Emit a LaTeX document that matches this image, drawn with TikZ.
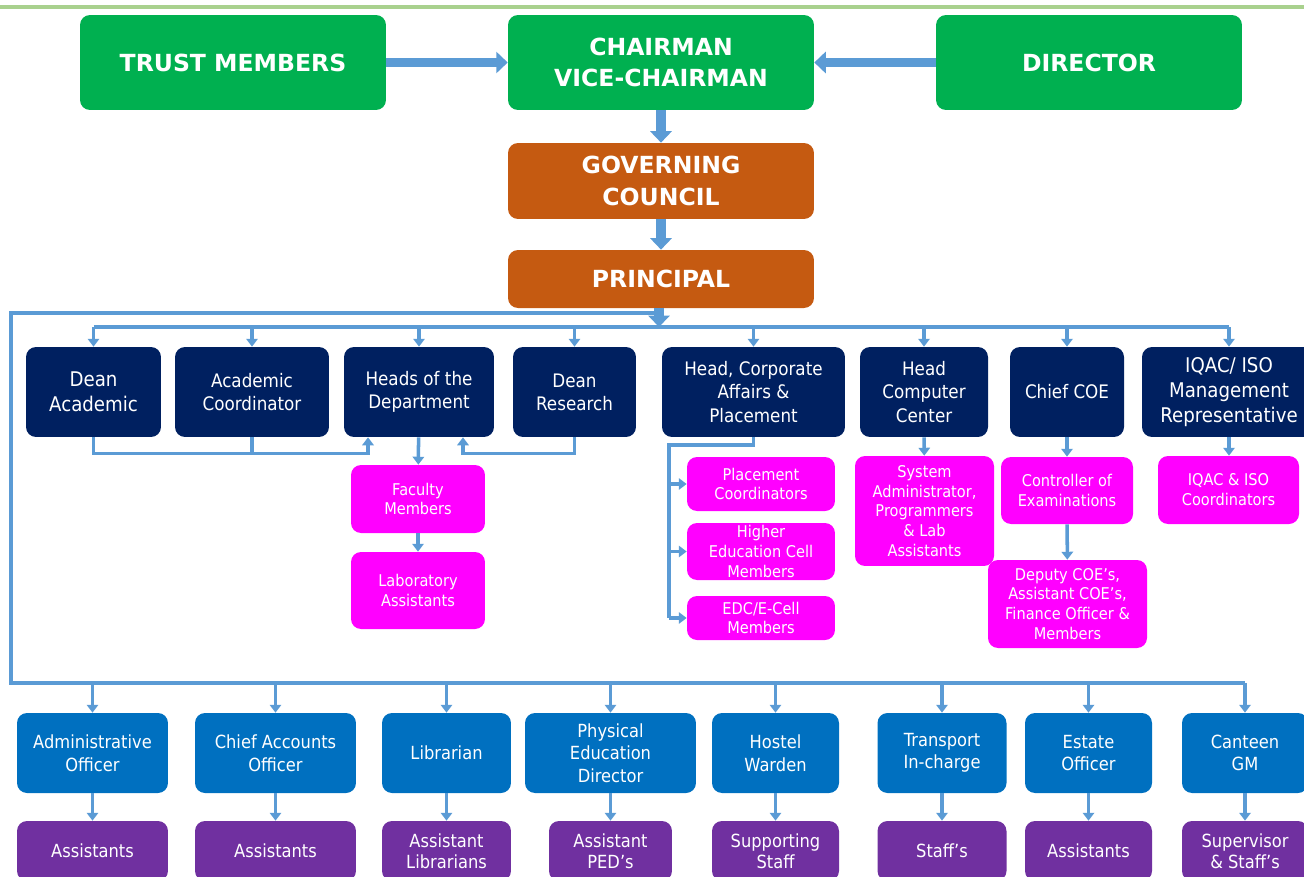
\documentclass[tikz,border=0pt]{standalone}
\usepackage{fontspec}
\setmainfont{DejaVu Sans}[FakeStretch=0.9]
\newfontfamily\headfont{DejaVu Sans}
\usetikzlibrary{arrows.meta}

\definecolor{trustgreen}{HTML}{00B050}
\definecolor{councilorange}{HTML}{C55A11}
\definecolor{deannavy}{HTML}{002060}
\definecolor{staffpink}{HTML}{FF00FF}
\definecolor{officeblue}{HTML}{0070C0}
\definecolor{helperpurple}{HTML}{7030A0}
\definecolor{linkblue}{HTML}{5B9BD5}
\definecolor{rulegreen}{HTML}{A9D18E}

\begin{document}
\begin{tikzpicture}[x=0.02cm,y=-0.02cm,
	box/.style={rounded corners=0.2cm,text=white,align=center,inner sep=1pt},
	board/.style={box,fill=trustgreen,font=\headfont\bfseries\fontsize{13.4}{17.4}\selectfont},
	gov/.style={box,fill=councilorange,font=\headfont\bfseries\fontsize{13.4}{18}\selectfont},
	dean/.style={box,fill=deannavy,minimum height=1.8cm,font=\fontsize{10.6}{13.2}\selectfont},
	staff/.style={box,fill=staffpink,font=\fontsize{9.2}{11.3}\selectfont},
	office/.style={box,fill=officeblue,minimum height=1.6cm,font=\fontsize{10.3}{12.8}\selectfont},
	helper/.style={box,fill=helperpurple,minimum height=1.2cm,font=\fontsize{10.3}{11.8}\selectfont},
	bigarrow/.style={linkblue,line width=5.5pt,-{Triangle[length=6.5pt,width=12pt]}},
	link/.style={linkblue,line width=2pt},
	linkarrow/.style={link,-{Triangle[length=4.5pt,width=6.5pt]}}]
	\path[use as bounding box,clip] (0,0) rectangle (1304,876);
	\draw[rulegreen,line width=2.4pt] (0,7) -- (1304,7);

	\node[board,minimum width=6.12cm,minimum height=1.9cm] (trust) at (233,62.5) {TRUST MEMBERS};
	\node[board,minimum width=6.12cm,minimum height=1.9cm] (chair) at (661,62.5) {CHAIRMAN\\VICE-CHAIRMAN};
	\node[board,minimum width=6.12cm,minimum height=1.9cm] (director) at (1089,62.5) {DIRECTOR};
	\node[gov,minimum width=6.12cm,minimum height=1.52cm] (council) at (661,181) {GOVERNING\\COUNCIL};
	\node[gov,minimum width=6.12cm,minimum height=1.16cm] (principal) at (661,279) {PRINCIPAL};

	\node[dean,minimum width=2.7cm,font=\fontsize{11.5}{14.3}\selectfont] (deanac) at (93.5,392) {Dean\\Academic};
	\node[dean,minimum width=3.08cm] (coord) at (252,392) {Academic\\Coordinator};
	\node[dean,minimum width=3cm] (hod) at (419,392) {Heads of the\\Department};
	\node[dean,minimum width=2.46cm] (deanres) at (574.5,392) {Dean\\Research};
	\node[dean,minimum width=3.66cm] (corp) at (753.5,392) {Head, Corporate\\Affairs \&\\Placement};
	\node[dean,minimum width=2.56cm] (hcc) at (924,392) {Head\\Computer\\Center};
	\node[dean,minimum width=2.28cm] (coe) at (1067,392) {Chief COE};
	\node[dean,minimum width=3.48cm,font=\fontsize{11.5}{14.4}\selectfont] (iqac) at (1229,392) {IQAC/ ISO\\Management\\Representative};

	\node[staff,minimum width=2.68cm,minimum height=1.36cm] (faculty) at (418,499) {Faculty\\Members};
	\node[staff,minimum width=2.68cm,minimum height=1.54cm] (labasst) at (418,590.5) {Laboratory\\Assistants};
	\node[staff,minimum width=2.96cm,minimum height=1.08cm] (plc) at (761,484) {Placement\\Coordinators};
	\node[staff,minimum width=2.96cm,minimum height=1.14cm] (hec) at (761,551.5) {Higher\\Education Cell\\Members};
	\node[staff,minimum width=2.96cm,minimum height=0.88cm] (edc) at (761,618) {EDC/E-Cell\\Members};
	\node[staff,minimum width=2.78cm,minimum height=2.2cm] (sysad) at (924.5,511) {System\\Administrator,\\Programmers\\\& Lab\\Assistants};
	\node[staff,minimum width=2.64cm,minimum height=1.34cm] (ctrl) at (1067,490.5) {Controller of\\Examinations};
	\node[staff,minimum width=3.18cm,minimum height=1.76cm] (deputy) at (1067.5,604) {Deputy COE’s,\\Assistant COE’s,\\Finance Officer \&\\Members};
	\node[staff,minimum width=2.82cm,minimum height=1.36cm] (iqacco) at (1228.5,490) {IQAC \& ISO\\Coordinators};

	\node[office,minimum width=3.02cm] (ao) at (92.5,753) {Administrative\\Officer};
	\node[office,minimum width=3.22cm] (cao) at (275.5,753) {Chief Accounts\\Officer};
	\node[office,minimum width=2.58cm] (lib) at (446.5,753) {Librarian};
	\node[office,minimum width=3.42cm] (ped) at (610.5,753) {Physical\\Education\\Director};
	\node[office,minimum width=2.54cm] (warden) at (775.5,753) {Hostel\\Warden};
	\node[office,minimum width=2.58cm] (transport) at (942,753) {Transport\\In-charge};
	\node[office,minimum width=2.54cm] (estate) at (1088.5,753) {Estate\\Officer};
	\node[office,minimum width=2.52cm] (canteen) at (1245,753) {Canteen\\GM};

	\node[helper,minimum width=3.02cm] (aoasst) at (92.5,851) {Assistants};
	\node[helper,minimum width=3.22cm] (caoasst) at (275.5,851) {Assistants};
	\node[helper,minimum width=2.58cm] (libasst) at (446.5,851) {Assistant\\Librarians};
	\node[helper,minimum width=2.46cm] (pedasst) at (610.5,851) {Assistant\\PED’s};
	\node[helper,minimum width=2.54cm] (support) at (775.5,851) {Supporting\\Staff};
	\node[helper,minimum width=2.58cm] (tstaff) at (942,851) {Staff’s};
	\node[helper,minimum width=2.54cm] (estasst) at (1088.5,851) {Assistants};
	\node[helper,minimum width=2.52cm] (supervisor) at (1245,851) {Supervisor\\\& Staff’s};

	\coordinate (topbus) at (0,327); \coordinate (tapline) at (0,313);
	\coordinate (corner) at (11,683); \coordinate (cspine) at (669,445);

	\draw[bigarrow] (trust) to (chair); \draw[bigarrow] (director) to (chair);
	\draw[bigarrow] (chair) to (council);
	\draw[bigarrow] (council) to (principal);
	\draw[bigarrow] (principal.south -| 659,0) to (topbus -| 659,0);

	\draw[link] (principal.south |- tapline) -| (corner) -- (canteen.north |- corner);
	\draw[link] (deanac.north |- topbus) -- (iqac.north |- topbus);
	\draw[linkarrow] (deanac.north |- topbus) to (deanac); \draw[linkarrow] (coord.north |- topbus) to (coord);
	\draw[linkarrow] (hod.north |- topbus) to (hod); \draw[linkarrow] (deanres.north |- topbus) to (deanres);
	\draw[linkarrow] (corp.north |- topbus) to (corp); \draw[linkarrow] (hcc.north |- topbus) to (hcc);
	\draw[linkarrow] (coe.north |- topbus) to (coe); \draw[linkarrow] (iqac.north |- topbus) to (iqac);

	\draw[linkarrow] (deanac.south) -- ++(0,16) -| ([xshift=-1.02cm]hod.south);
	\draw[link] (coord.south) -- ++(0,16);
	\draw[linkarrow] (deanres.south) -- ++(0,16) -| ([xshift=0.88cm]hod.south);
	\draw[linkarrow] (hod) to (faculty); \draw[linkarrow] (faculty) to (labasst);

	\draw[link] (corp.south) |- (cspine) -- (cspine |- edc.west);
	\draw[linkarrow] (cspine |- plc.west) to (plc.west);
	\draw[linkarrow] (cspine |- hec.west) to (hec.west);
	\draw[linkarrow] (cspine |- edc.west) to (edc.west);
	\draw[linkarrow] (hcc) to (sysad);
	\draw[linkarrow] (coe) to (ctrl); \draw[linkarrow] (ctrl) to (deputy);
	\draw[linkarrow] (iqac.south) to (iqac.south |- iqacco.north);

	\draw[linkarrow] (ao.north |- corner) to (ao); \draw[linkarrow] (cao.north |- corner) to (cao);
	\draw[linkarrow] (lib.north |- corner) to (lib); \draw[linkarrow] (ped.north |- corner) to (ped);
	\draw[linkarrow] (warden.north |- corner) to (warden); \draw[linkarrow] (transport.north |- corner) to (transport);
	\draw[linkarrow] (estate.north |- corner) to (estate); \draw[linkarrow] (canteen.north |- corner) to (canteen);

	\draw[linkarrow] (ao) to (aoasst); \draw[linkarrow] (cao) to (caoasst);
	\draw[linkarrow] (lib) to (libasst); \draw[linkarrow] (ped) to (pedasst);
	\draw[linkarrow] (warden) to (support); \draw[linkarrow] (transport) to (tstaff);
	\draw[linkarrow] (estate) to (estasst); \draw[linkarrow] (canteen) to (supervisor);
\end{tikzpicture}
\end{document}
